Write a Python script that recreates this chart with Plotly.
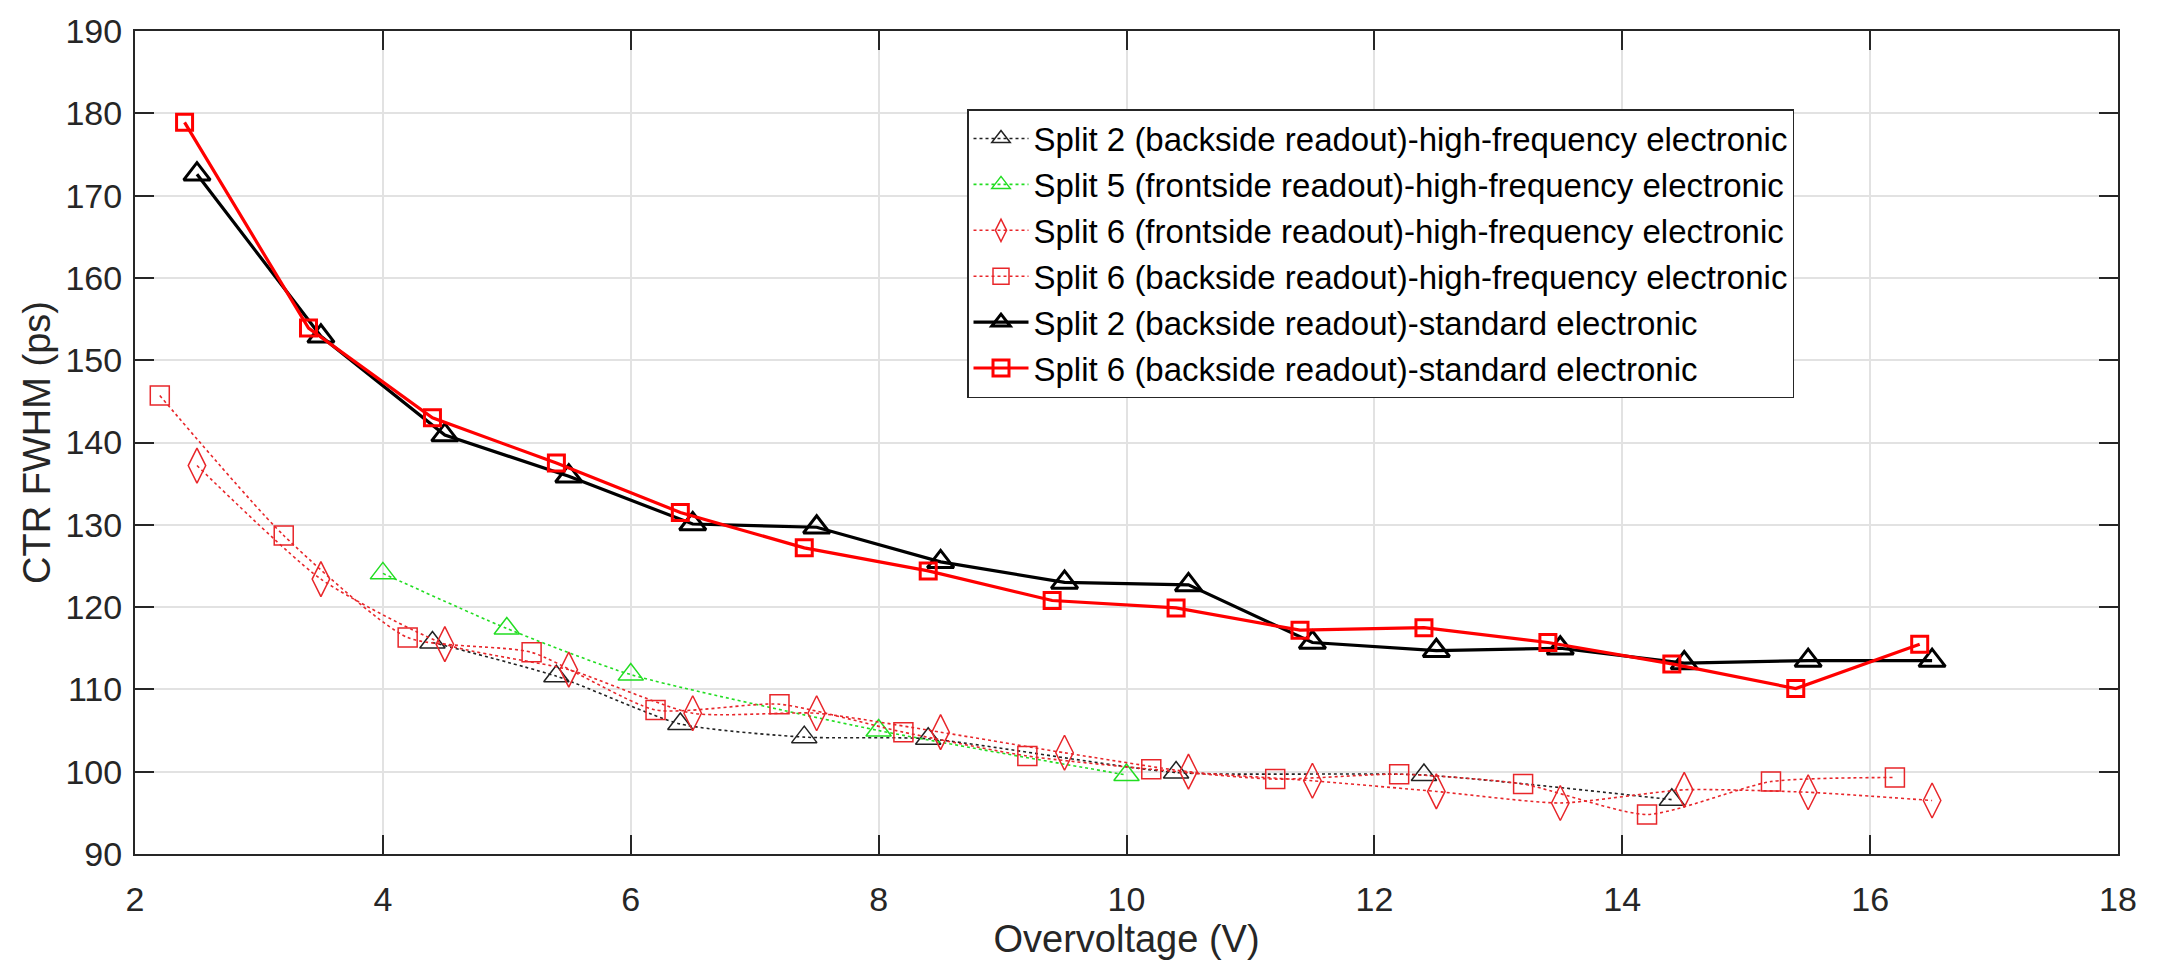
import plotly.graph_objects as go

# ---- data ----
x_s2_hf = [4.4, 5.4, 6.4, 7.4, 8.4, 10.4, 12.4, 14.4]
y_s2_hf = [115.7, 111.6, 105.8, 104.2, 104.0, 99.9, 99.6, 96.6]

x_s5_hf = [4, 5, 6, 8, 10]
y_s5_hf = [124.1, 117.4, 111.8, 105.0, 99.6]

x_s6f_hf = [2.5, 3.5, 4.5, 5.5, 6.5, 7.5, 8.5, 9.5, 10.5, 11.5, 12.5, 13.5, 14.5, 15.5, 16.5]
y_s6f_hf = [137.2, 123.4, 115.5, 112.4, 107.1, 107.1, 104.8, 102.3, 100.0, 98.9, 97.6, 96.2, 97.8, 97.5, 96.5]

x_s6b_hf = [2.2, 3.2, 4.2, 5.2, 6.2, 7.2, 8.2, 9.2, 10.2, 11.2, 12.2, 13.2, 14.2, 15.2, 16.2]
y_s6b_hf = [145.7, 128.7, 116.3, 114.5, 107.5, 108.2, 104.8, 101.9, 100.3, 99.1, 99.7, 98.5, 94.8, 98.8, 99.3]

x_s2_std = [2.5, 3.5, 4.5, 5.5, 6.5, 7.5, 8.5, 9.5, 10.5, 11.5, 12.5, 13.5, 14.5, 15.5, 16.5]
y_s2_std = [172.6, 152.9, 140.9, 135.9, 130.1, 129.7, 125.5, 123.0, 122.7, 115.7, 114.7, 115.0, 113.2, 113.5, 113.5]

x_s6_std = [2.4, 3.4, 4.4, 5.4, 6.4, 7.4, 8.4, 9.4, 10.4, 11.4, 12.4, 13.4, 14.4, 15.4, 16.4]
y_s6_std = [178.9, 153.9, 143.0, 137.5, 131.5, 127.2, 124.4, 120.8, 119.9, 117.2, 117.5, 115.7, 113.1, 110.1, 115.5]

names = [
    "Split 2 (backside readout)-high-frequency electronic",
    "Split 5 (frontside readout)-high-frequency electronic",
    "Split 6 (frontside readout)-high-frequency electronic",
    "Split 6 (backside readout)-high-frequency electronic",
    "Split 2 (backside readout)-standard electronic",
    "Split 6 (backside readout)-standard electronic",
]

x_ticks = [2, 4, 6, 8, 10, 12, 14, 16, 18]
y_ticks = [90, 100, 110, 120, 130, 140, 150, 160, 170, 180, 190]

FONT = "Liberation Sans, Arial, Helvetica, sans-serif"
RED = "#ff0000"
HFRED = "#e8262a"
GREEN = "#22dd22"
BLACK = "#000000"

fig = go.Figure()

def hf(x, y, name, color, symbol, size, grp):
    fig.add_trace(go.Scatter(
        x=x, y=y, name=name, mode="lines+markers", legendgroup=grp,
        line=dict(color=color, width=1.6, dash="dot", shape="spline", smoothing=0.6),
        marker=dict(symbol=symbol, size=size, color=color, line=dict(color=color, width=1.5)),
    ))

def std(x, y, name, color, symbol, size, grp):
    fig.add_trace(go.Scatter(
        x=x, y=y, name=name, mode="lines+markers", legendgroup=grp,
        line=dict(color=color, width=3.2),
        marker=dict(symbol=symbol, size=size, color=color, line=dict(color=color, width=3)),
    ))

hf(x_s2_hf, y_s2_hf, names[0], "#222222", "triangle-up-open", 22, "a")
hf(x_s5_hf, y_s5_hf, names[1], GREEN, "triangle-up-open", 22, "b")
hf(x_s6f_hf, y_s6f_hf, names[2], HFRED, "diamond-tall-open", 25, "c")
hf(x_s6b_hf, y_s6b_hf, names[3], HFRED, "square-open", 19, "d")
std(x_s2_std, y_s2_std, names[4], BLACK, "triangle-up-open", 23, "e")
std(x_s6_std, y_s6_std, names[5], RED, "square-open", 16, "f")

axis_common = dict(
    showline=True, linecolor="#262626", linewidth=2, mirror="ticks",
    ticks="inside", ticklen=19, tickwidth=1.5, tickcolor="#262626",
    showgrid=True, gridcolor="#e2e2e2", gridwidth=1.5,
    zeroline=False,
    tickfont=dict(family=FONT, size=34, color="#262626"),
)

fig.update_xaxes(
    range=[2, 18], tickvals=x_ticks, ticktext=[str(v) for v in x_ticks],
    title=dict(text="Overvoltage (V)", font=dict(family=FONT, size=38, color="#262626"), standoff=4),
    ticklabelstandoff=14,
    **axis_common,
)
fig.update_yaxes(
    range=[90, 190], tickvals=y_ticks, ticktext=[str(v) for v in y_ticks],
    title=dict(text="CTR FWHM (ps)", font=dict(family=FONT, size=38, color="#262626"), standoff=3),
    ticklabelstandoff=4,
    **axis_common,
)

fig.update_layout(
    width=2160, height=960,
    margin=dict(l=135, r=42, t=21, b=106),
    paper_bgcolor="white", plot_bgcolor="white",
    font=dict(family=FONT, color="#000000"),
    legend=dict(
        x=(967 - 135) / 1983, y=(854 - 100) / 833, xanchor="left", yanchor="top",
        bgcolor="white", bordercolor="#262626", borderwidth=1.5,
        font=dict(family=FONT, size=33, color="#000000"),
        traceorder="grouped", tracegroupgap=0,
        itemwidth=55,
    ),
    showlegend=True,
)

fig.write_html("out.html")
